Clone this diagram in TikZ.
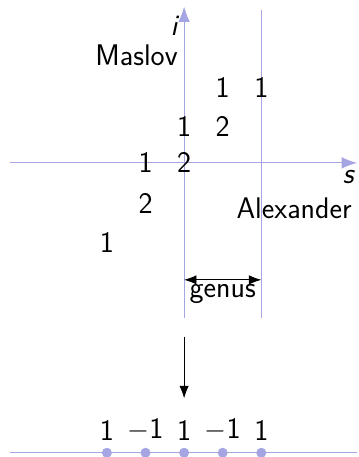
\documentclass[tikz,border=0pt]{standalone}
\usepackage{amsmath}
\usepackage{xcolor}
\usepackage{tikz}
\usetikzlibrary{arrows.meta,positioning}

\definecolor{gridblue}{RGB}{165,165,228}

\begin{document}
\begin{tikzpicture}[
  x=1cm, y=1cm,
  font=\fontsize{22}{26}\selectfont\sffamily,
  ax/.style  ={draw=gridblue, line width=0.7pt},
  axarr/.style={ax, -{Latex[length=4mm,width=3mm]}},
  num/.style ={inner sep=0pt},
  lbl/.style ={inner sep=0pt},
  dot/.style ={circle, fill=gridblue, inner sep=0pt, minimum size=2.6mm},
  arr/.style ={-{Latex[length=3.2mm,width=2.4mm]}, line width=0.6pt}
]
\useasboundingbox (-4.77,-7.62) rectangle (4.53,4.22);

% axes
\coordinate (xl) at (-4.5,0);
\coordinate (xr) at (4.48,0);
\coordinate (yb) at (0,-4.02);
\coordinate (yt) at (0,4.05);
\coordinate (gb) at (2,-4.02);
\coordinate (gt) at (2,3.97);
\draw[axarr] (xl) -- (xr);
\draw[axarr] (yb) -- (yt);
\draw[ax]    (gb) -- (gt);

\node[lbl, anchor=east] (ilab) at (-0.17,3.55) {\itshape i};
\node[lbl, anchor=east] (mas)  at (-0.16,2.8)  {Maslov};
\node[lbl] (slab) at (4.25,-0.37) {\itshape s};
\node[lbl] (alex) at (2.85,-1.17) {Alexander};

% ranks
\node[num] (n12) at (1,1.95)  {1};
\node[num] (n22) at (2,1.95)  {1};
\node[num] (n01) at (0,0.95)  {1};
\node[num] (n11) at (1,0.95)  {2};
\node[num] (m10) at (-1,0)    {1};
\node[num] (n00) at (0,0)     {2};
\node[num] (m11) at (-1,-1.05){2};
\node[num] (m22) at (-2,-2.05){1};

% genus
\coordinate (g0) at (0,-3.03);
\coordinate (g2) at (2,-3.03);
\draw[arr, {Latex[length=3.2mm,width=2.4mm]}-{Latex[length=3.2mm,width=2.4mm]}] (g0) -- (g2);
\node[lbl] (genus) at (1,-3.4) {genus};

% map down
\coordinate (dtop) at (0,-4.5);
\coordinate (dbot) at (0,-6.1);
\draw[arr] (dtop) -- (dbot);

% bottom line
\coordinate (bl) at (-4.5,-7.51);
\coordinate (br) at (4.48,-7.51);
\draw[ax] (bl) -- (br);
\foreach \i/\v in {-2/1, -1/{\(-\)1}, 0/1, 1/{\(-\)1}, 2/1} {
  \node[dot] (d\i) at (\i,-7.51) {};
  \node[num] (c\i) at (\i,-6.92) {\v};
}
\end{tikzpicture}
\end{document}
